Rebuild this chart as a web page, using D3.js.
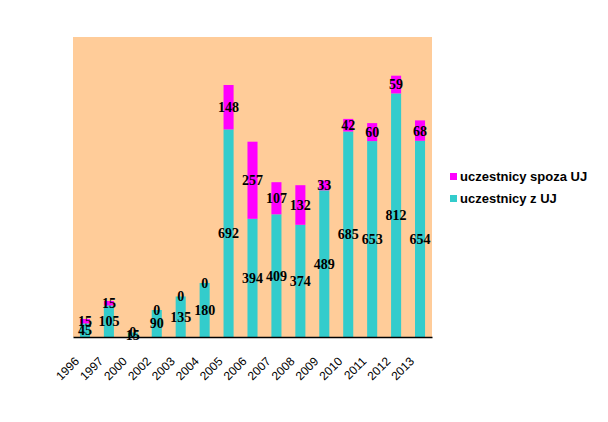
<!DOCTYPE html>
<html><head><meta charset="utf-8">
<script src="https://cdn.jsdelivr.net/npm/d3@7"></script>
<style>body{margin:0;background:#fff}</style>
</head><body>
<svg id="c" width="608" height="422"></svg>
<script>
const years = ["1996","1997","2000","2002","2003","2004","2005","2006","2007","2008","2009","2010","2011","2012","2013"];
const zUJ =    [45,105,15,90,135,180,692,394,409,374,489,685,653,812,654];
const spozaUJ = [15,15,0,0,0,0,148,257,107,132,33,42,60,59,68];
const seriesNames = ["uczestnicy z UJ","uczestnicy spoza UJ"];
const colors = ["#33CCCC","#FF00FF"];

const svg = d3.select("#c");
const m = {l:73, t:37, r:432, b:337};
svg.append("rect").attr("x",m.l).attr("y",m.t).attr("width",m.r-m.l).attr("height",m.b-m.t).attr("fill","#FFCC99");

const x = d3.scaleBand().domain(years).range([m.l,m.r]).paddingInner(0.58).paddingOuter(0.29);
const y = d3.scaleLinear().domain([0,1000]).range([m.b,m.t]);

const data = years.map((yr,i)=>({year:yr, a:zUJ[i], b:spozaUJ[i]}));
const stack = d3.stack().keys(["a","b"])(data);

stack.forEach((s,si)=>{
  svg.append("g").selectAll("rect").data(s).join("rect")
    .attr("x",d=>x(d.data.year)).attr("width",x.bandwidth())
    .attr("y",d=>y(d[1])).attr("height",d=>y(d[0])-y(d[1]))
    .attr("fill",colors[si]);
});
stack.forEach((s,si)=>{
  svg.append("g").selectAll("text").data(s).join("text")
    .attr("x",d=>x(d.data.year)+x.bandwidth()/2)
    .attr("y",d=>(y(d[0])+y(d[1]))/2)
    .attr("dy","0.35em")
    .attr("text-anchor","middle")
    .attr("font-family","'Liberation Serif','Times New Roman',serif")
    .attr("font-weight","bold").attr("font-size",14).attr("fill","#000")
    .text(d=>d[1]-d[0]);
});

const ax = svg.append("g").attr("transform",`translate(0,${m.b})`)
  .call(d3.axisBottom(x).tickSize(0).tickPadding(0));
ax.select(".domain").attr("stroke","#000").attr("stroke-width",1.3);
ax.selectAll("text")
  .attr("font-family","Arial, 'Liberation Sans', sans-serif").attr("font-size",12).attr("fill","#000")
  .attr("text-anchor","end").attr("dy",null)
  .attr("transform","translate(-5,25) rotate(-45)");

const leg = svg.append("g");
[1,0].forEach((si,k)=>{
  const ly = 181 + k*22;
  leg.append("rect").attr("x",450).attr("y",ly-8).attr("width",7).attr("height",7).attr("fill",colors[si]);
  leg.append("text").attr("x",460).attr("y",ly)
    .attr("font-family","Arial, 'Liberation Sans', sans-serif").attr("font-weight","bold")
    .attr("font-size",13).attr("fill","#000").text(seriesNames[si]);
});
</script>
</body></html>
